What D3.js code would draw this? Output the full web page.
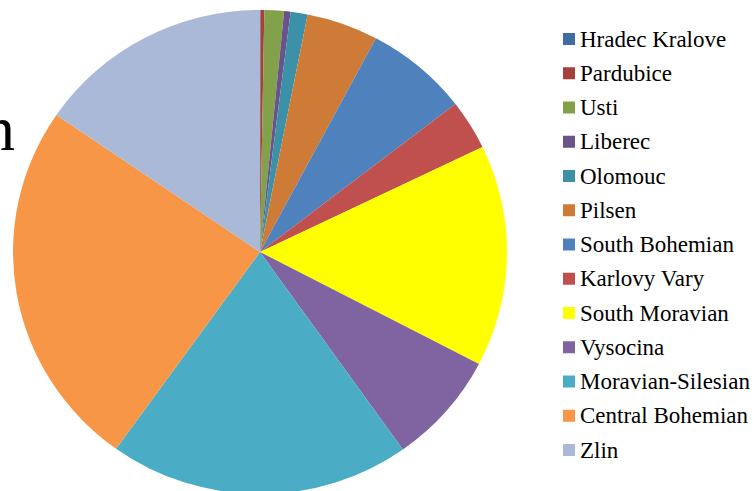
<!DOCTYPE html>
<html lang="en">
  <head>
    <meta charset="UTF-8" />
    <title>Regions pie</title>
    <script src="https://d3js.org/d3.v7.min.js"></script>
    <style>
      body {
        margin: 0;
        background: #fff;
      }
      svg {
        display: block;
      }
      text {
        font-family: "Liberation Serif", "DejaVu Serif", serif;
      }
    </style>
  </head>
  <body>
    <svg id="chart" width="754" height="491"></svg>
    <script>
      // regions, clockwise from 12 o'clock
      let regions = [
        "Hradec Kralove",
        "Pardubice",
        "Usti",
        "Liberec",
        "Olomouc",
        "Pilsen",
        "South Bohemian",
        "Karlovy Vary",
        "South Moravian",
        "Vysocina",
        "Moravian-Silesian",
        "Central Bohemian",
        "Zlin",
      ];
      // share of the pie (%)
      let shares = [
        0.03, 0.25, 1.28, 0.42, 1.11, 4.69, 6.75, 3.33, 14.8, 7.53, 19.72,
        24.69, 15.42,
      ];
      let colors = [
        "#3f6ca2",
        "#a5403d",
        "#83a04b",
        "#6a528b",
        "#3c91a8",
        "#cd7b37",
        "#4f81bd",
        "#c0504d",
        "#ffff00",
        "#8064a2",
        "#4bacc6",
        "#f79646",
        "#aab9d7",
      ];

      let data = regions.map((r, i) => ({ name: r, value: shares[i] }));
      let svg = d3.select("#chart");

      // title text, mostly hidden off the left edge
      svg
        .append("text")
        .attr("x", 15)
        .attr("y", 150)
        .attr("text-anchor", "end")
        .attr("font-family", "Liberation Serif, serif")
        .attr("font-size", 64)
        .attr("fill", "#000")
        .text("n");

      let cx = 260,
        cy = 252,
        radius = 247;

      let pie = d3
        .pie()
        .value((d) => d.value)
        .sort(null);
      let arc = d3.arc().innerRadius(0).outerRadius(radius);
      let color = d3.scaleOrdinal().domain(regions).range(colors);

      let g = svg
        .append("g")
        .attr("transform", `translate(${cx},${cy}) scale(1,0.98)`);
      g.selectAll("path")
        .data(pie(data))
        .join("path")
        .attr("d", arc)
        .attr("fill", (d) => color(d.data.name));

      // legend
      let legendY = d3
        .scalePoint()
        .domain(regions)
        .range([39, 450]);
      let legend = svg
        .append("g")
        .selectAll("g")
        .data(regions)
        .join("g")
        .attr("transform", (d) => `translate(563,${legendY(d)})`);
      legend
        .append("rect")
        .attr("x", 0)
        .attr("y", -6)
        .attr("width", 12)
        .attr("height", 12)
        .attr("fill", (d) => color(d));
      legend
        .append("text")
        .attr("x", 17)
        .attr("y", 7.5)
        .attr("font-family", "Liberation Serif, serif")
        .attr("font-size", 23)
        .attr("fill", "#000")
        .text((d) => d);
    </script>
  </body>
</html>
